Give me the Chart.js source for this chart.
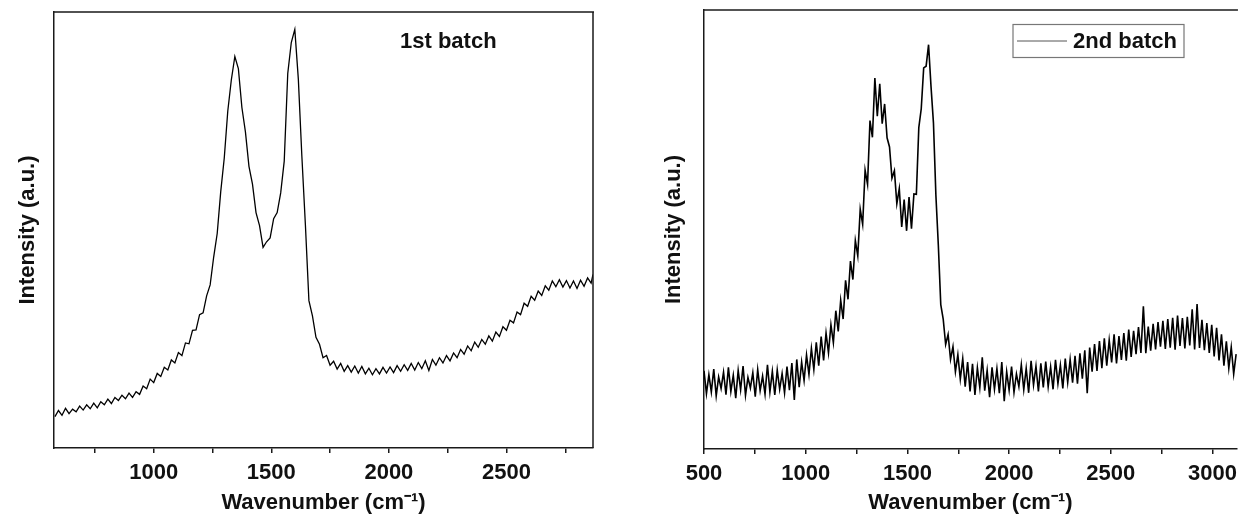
<!DOCTYPE html>
<html>
<head>
<meta charset="utf-8">
<script src="https://cdn.jsdelivr.net/npm/chart.js@4.4.1/dist/chart.umd.min.js"></script>
<style>
  html, body { margin: 0; padding: 0; background: #fff; }
  body { width: 1244px; height: 518px; overflow: hidden; position: relative; }
  .panel { position: absolute; top: 0; height: 518px; }
  #p1 { left: 0; width: 620px; }
  #p2 { left: 624px; width: 620px; }
</style>
</head>
<body>
<div class="panel" id="p1"><canvas id="batch1"></canvas></div>
<div class="panel" id="p2"><canvas id="batch2"></canvas></div>
<script>
// 1st batch spectrum (wavenumber in cm-1, intensity in arbitrary units 0-100)
const wavenumber1 = [
  580, 595, 610, 625, 640, 655, 670, 685, 700, 715,
  730, 745, 760, 775, 790, 805, 820, 835, 850, 865,
  880, 895, 910, 925, 940, 955, 970, 985, 1000, 1015,
  1030, 1045, 1060, 1075, 1090, 1105, 1120, 1135, 1150, 1165,
  1180, 1195, 1210, 1225, 1240, 1255, 1270, 1285, 1300, 1315,
  1330, 1345, 1360, 1375, 1390, 1405, 1420, 1435, 1450, 1465,
  1480, 1495, 1510, 1525, 1540, 1555, 1570, 1585, 1600, 1615,
  1630, 1645, 1660, 1675, 1690, 1705, 1720, 1735, 1750, 1765,
  1780, 1795, 1810, 1825, 1840, 1855, 1870, 1885, 1900, 1915,
  1930, 1945, 1960, 1975, 1990, 2005, 2020, 2035, 2050, 2065,
  2080, 2095, 2110, 2125, 2140, 2155, 2170, 2185, 2200, 2215,
  2230, 2245, 2260, 2275, 2290, 2305, 2320, 2335, 2350, 2365,
  2380, 2395, 2410, 2425, 2440, 2455, 2470, 2485, 2500, 2515,
  2530, 2545, 2560, 2575, 2590, 2605, 2620, 2635, 2650, 2665,
  2680, 2695, 2710, 2725, 2740, 2755, 2770, 2785, 2800, 2815,
  2830, 2845, 2860, 2868
];
const intensity1 = [
  7.2, 8.6, 7.5, 9.1, 7.9, 8.9, 8.3, 9.6, 8.7, 9.9,
  9.0, 10.3, 9.2, 10.6, 9.9, 11.2, 10.2, 11.6, 10.9, 12.1,
  11.3, 12.6, 11.6, 12.9, 12.3, 14.2, 13.6, 15.8, 15.0, 17.1,
  16.4, 18.5, 17.9, 20.2, 19.5, 21.9, 21.2, 24.1, 23.9, 27.0,
  27.1, 30.6, 31.0, 34.9, 37.4, 43.8, 49.2, 58.8, 66.5, 77.3,
  84.4, 89.8, 87.0, 78.1, 72.5, 64.6, 60.5, 54.0, 51.0, 46.0,
  47.3, 48.2, 52.6, 54.0, 58.5, 65.8, 85.9, 93.0, 96.0, 84.6,
  66.9, 51.2, 33.8, 30.3, 25.4, 23.8, 20.7, 21.2, 19.0, 19.9,
  18.1, 19.4, 17.6, 18.9, 17.4, 18.8, 17.2, 18.7, 17.0, 18.3,
  16.8, 18.2, 17.0, 18.5, 17.2, 18.6, 17.3, 18.9, 17.6, 19.1,
  17.8, 19.4, 17.9, 19.6, 18.2, 20.0, 17.8, 20.3, 19.0, 20.7,
  19.5, 21.2, 20.0, 21.8, 20.7, 22.6, 21.5, 23.4, 22.3, 24.3,
  23.1, 24.9, 23.8, 25.7, 24.5, 26.6, 25.6, 27.8, 27.0, 29.3,
  28.7, 31.2, 30.6, 33.2, 32.5, 34.8, 33.9, 36.0, 35.0, 37.2,
  36.2, 38.3, 37.0, 38.6, 36.9, 38.4, 36.7, 38.3, 36.6, 38.5,
  37.1, 39.0, 37.8, 39.8
];

// 2nd batch spectrum
const wavenumber2 = [
  500, 512, 524, 536, 548, 560, 572, 584, 596, 608,
  620, 632, 644, 656, 668, 680, 692, 704, 716, 728,
  740, 752, 764, 776, 788, 800, 812, 824, 836, 848,
  860, 872, 884, 896, 908, 920, 932, 944, 956, 968,
  980, 992, 1004, 1016, 1028, 1040, 1052, 1064, 1076, 1088,
  1100, 1112, 1124, 1136, 1148, 1160, 1172, 1184, 1196, 1208,
  1220, 1232, 1244, 1256, 1268, 1280, 1292, 1304, 1316, 1328,
  1340, 1352, 1364, 1376, 1388, 1400, 1412, 1424, 1436, 1448,
  1460, 1472, 1484, 1496, 1508, 1520, 1532, 1544, 1556, 1568,
  1580, 1592, 1604, 1616, 1628, 1640, 1652, 1664, 1676, 1688,
  1700, 1712, 1724, 1736, 1748, 1760, 1772, 1784, 1796, 1808,
  1820, 1832, 1844, 1856, 1868, 1880, 1892, 1904, 1916, 1928,
  1940, 1952, 1964, 1976, 1988, 2000, 2012, 2024, 2036, 2048,
  2060, 2072, 2084, 2096, 2108, 2120, 2132, 2144, 2156, 2168,
  2180, 2192, 2204, 2216, 2228, 2240, 2252, 2264, 2276, 2288,
  2300, 2312, 2324, 2336, 2348, 2360, 2372, 2384, 2396, 2408,
  2420, 2432, 2444, 2456, 2468, 2480, 2492, 2504, 2516, 2528,
  2540, 2552, 2564, 2576, 2588, 2600, 2612, 2624, 2636, 2648,
  2660, 2672, 2684, 2696, 2708, 2720, 2732, 2744, 2756, 2768,
  2780, 2792, 2804, 2816, 2828, 2840, 2852, 2864, 2876, 2888,
  2900, 2912, 2924, 2936, 2948, 2960, 2972, 2984, 2996, 3008,
  3020, 3032, 3044, 3056, 3068, 3080, 3092, 3104, 3116
];
const intensity2 = [
  17.8, 12.6, 16.9, 13.0, 18.2, 12.1, 16.4, 13.8, 17.5, 12.4,
  18.6, 13.1, 16.8, 11.6, 17.9, 13.5, 18.9, 12.2, 16.3, 13.9,
  17.4, 11.9, 18.1, 13.3, 16.6, 12.5, 19.2, 13.0, 17.7, 12.3,
  18.0, 13.6, 17.2, 12.8, 18.8, 13.4, 19.6, 11.2, 20.4, 14.1,
  19.8, 15.6, 21.4, 17.0, 22.9, 18.1, 24.3, 19.0, 25.6, 20.2,
  26.4, 21.9, 28.3, 24.2, 31.5, 26.8, 33.9, 29.6, 38.4, 34.1,
  42.8, 38.6, 47.5, 44.0, 54.6, 51.2, 63.5, 60.3, 74.8, 71.0,
  84.5, 75.8, 83.2, 74.1, 78.6, 70.9, 68.8, 61.7, 63.4, 55.9,
  59.3, 50.6, 56.8, 49.7, 57.4, 50.2, 58.1, 58.0, 73.2, 77.5,
  86.8, 87.2, 92.1, 82.6, 74.3, 57.8, 46.4, 32.9, 29.6, 23.8,
  26.1, 20.4, 23.3, 17.6, 21.5, 15.9, 20.6, 14.2, 19.8, 13.1,
  19.4, 12.3, 18.5, 14.0, 20.9, 13.3, 17.9, 11.8, 18.6, 13.6,
  18.3, 12.7, 19.8, 10.9, 17.6, 13.4, 18.8, 12.9, 17.1, 14.2,
  19.2, 13.5, 18.4, 12.8, 20.1, 14.6, 18.9, 13.1, 19.5, 14.0,
  19.9, 14.2, 18.7, 13.6, 20.3, 14.9, 19.1, 13.8, 20.6, 15.2,
  20.4, 15.1, 21.2, 14.9, 21.8, 16.0, 22.5, 12.7, 23.1, 17.6,
  23.9, 17.8, 24.6, 18.4, 25.2, 19.0, 24.8, 19.7, 26.1, 19.5,
  25.7, 20.3, 26.4, 20.1, 27.2, 21.0, 26.9, 21.6, 27.8, 21.9,
  32.5, 21.8, 27.9, 22.4, 28.5, 22.7, 28.9, 23.3, 29.2, 22.8,
  29.6, 23.1, 29.9, 22.6, 30.4, 23.5, 29.8, 22.9, 30.1, 23.6,
  31.8, 22.7, 33.0, 23.0, 29.4, 22.5, 28.7, 21.9, 28.3, 21.1,
  27.6, 20.2, 26.1, 19.0, 24.5, 18.4, 23.2, 17.1, 21.6
];

const xRange1 = [576, 2868];
const xRange2 = [500, 3120];
// tick positions (labels only on multiples of 500)
const xTicks1 = [750, 1000, 1250, 1500, 1750, 2000, 2250, 2500, 2750];
const xTicks2 = [500, 750, 1000, 1250, 1500, 1750, 2000, 2250, 2500, 2750, 3000];
const xTitle = 'Wavenumber (cm\u207B\u00B9)';
const yTitle = 'Intensity (a.u.)';

const FONT = '"Liberation Sans", Arial, sans-serif';
const INK = '#1a1a1a';

// closes the plot frame (top and, optionally, right side)
const frame = {
  id: 'frame',
  afterDraw(chart, args, opts) {
    const {ctx, chartArea: a} = chart;
    ctx.save();
    ctx.strokeStyle = INK;
    ctx.lineWidth = 1.5;
    ctx.beginPath();
    ctx.moveTo(a.left, a.top);
    ctx.lineTo(a.right + 1, a.top);
    if (opts.right) {
      ctx.moveTo(a.right, a.top);
      ctx.lineTo(a.right, a.bottom);
    }
    ctx.stroke();
    ctx.restore();
  }
};

// series name inside the plot, with an optional boxed legend entry
const batchLabel = {
  id: 'batchLabel',
  afterDraw(chart, args, opts) {
    const {ctx, chartArea: a} = chart;
    const label = chart.data.datasets[0].label;
    const x = a.left + opts.dx, y = a.top + opts.dy;
    ctx.save();
    ctx.font = 'bold 22px ' + FONT;
    ctx.fillStyle = '#111';
    ctx.textBaseline = 'middle';
    if (opts.boxed) {
      ctx.strokeStyle = '#777';
      ctx.lineWidth = 1.2;
      ctx.strokeRect(x, y - 16.5, 171, 33);
      ctx.strokeStyle = '#555';
      ctx.lineWidth = 1;
      ctx.beginPath();
      ctx.moveTo(x + 4, y);
      ctx.lineTo(x + 54, y);
      ctx.stroke();
      ctx.fillText(label, x + 60, y + 1);
    } else {
      ctx.fillText(label, x, y + 1);
    }
    ctx.restore();
  }
};

function makeChart(id, label, xs, ys, range, tickValues, lineWidth, sizes, extra) {
  const points = xs.map((x, i) => ({x: x, y: ys[i]}));
  return new Chart(document.getElementById(id), {
    type: 'line',
    data: {
      datasets: [{
        label: label,
        data: points,
        borderColor: '#000',
        borderWidth: lineWidth,
        pointRadius: 0,
        tension: 0,
        fill: false
      }]
    },
    options: {
      responsive: true,
      maintainAspectRatio: false,
      animation: false,
      events: [],
      layout: { padding: sizes.padding },
      plugins: {
        legend: { display: false },
        tooltip: { enabled: false },
        frame: { right: extra.rightFrame },
        batchLabel: extra.label
      },
      scales: {
        x: {
          type: 'linear',
          min: range[0],
          max: range[1],
          afterBuildTicks: s => { s.ticks = tickValues.map(v => ({value: v})); },
          afterFit: s => { s.height = sizes.xHeight; },
          border: { color: INK, width: 1.5 },
          grid: { drawOnChartArea: false, drawTicks: true, tickLength: 5, color: INK, lineWidth: 1.5 },
          ticks: {
            autoSkip: false,
            maxRotation: 0,
            padding: 7,
            color: '#111',
            font: { family: FONT, size: 22, weight: 'bold' },
            callback: v => (v % 500 === 0 ? String(v) : '')
          },
          title: {
            display: true,
            text: xTitle,
            color: '#111',
            padding: { top: 0, bottom: 2 },
            font: { family: FONT, size: 22, weight: 'bold' }
          }
        },
        y: {
          min: 0,
          max: 100,
          afterFit: s => { s.width = sizes.yWidth; },
          border: { color: INK, width: 1.5 },
          grid: { display: false, drawTicks: false },
          ticks: { display: false },
          title: {
            display: true,
            text: yTitle,
            color: '#111',
            padding: { top: sizes.yTitlePad, bottom: 0 },
            font: { family: FONT, size: 22, weight: 'bold' }
          }
        }
      }
    },
    plugins: [frame, batchLabel]
  });
}

makeChart('batch1', '1st batch', wavenumber1, intensity1, xRange1, xTicks1, 1.3,
  { padding: { left: 0, top: 12, right: 27, bottom: 0 }, xHeight: 70, yWidth: 54, yTitlePad: 15 },
  { rightFrame: true, label: { dx: 346, dy: 29, boxed: false } });

makeChart('batch2', '2nd batch', wavenumber2, intensity2, xRange2, xTicks2, 1.6,
  { padding: { left: 0, top: 10, right: 0, bottom: 0 }, xHeight: 69, yWidth: 80, yTitlePad: 37 },
  { rightFrame: false, label: { dx: 309, dy: 31, boxed: true } });
</script>
</body>
</html>
